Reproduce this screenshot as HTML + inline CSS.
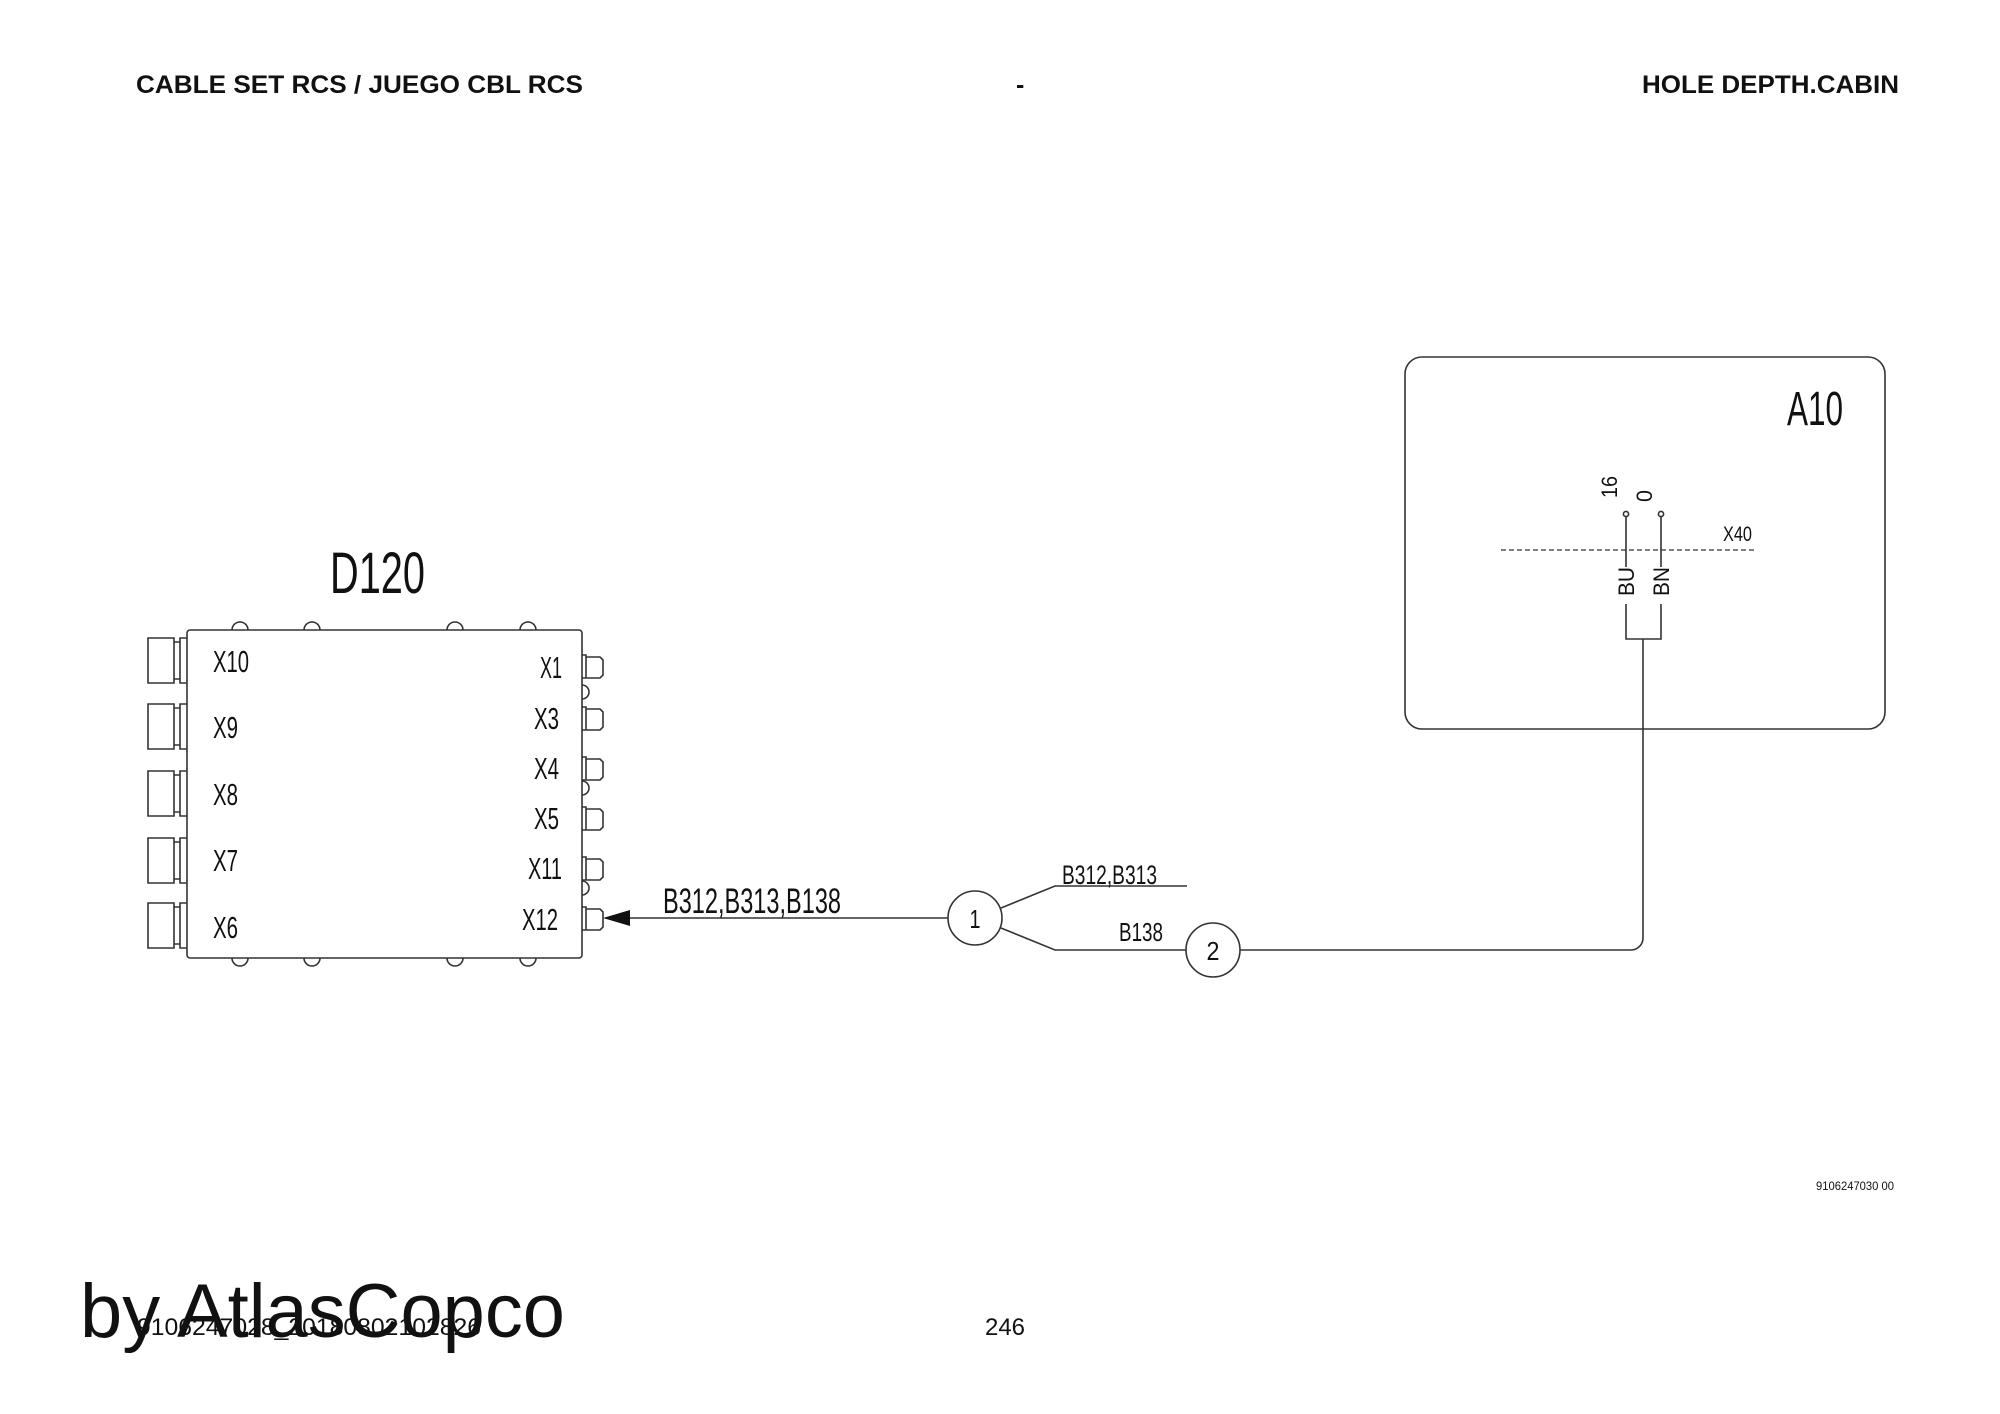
<!DOCTYPE html>
<html><head><meta charset="utf-8"><style>
html,body{margin:0;padding:0;background:#fff;}
svg{display:block;}
text{font-family:"Liberation Sans",sans-serif;fill:#111;}
</style></head><body>
<svg width="2000" height="1414" viewBox="0 0 2000 1414" xmlns="http://www.w3.org/2000/svg">
<g font-size="25" font-weight="bold">
<text x="136" y="93" textLength="447" lengthAdjust="spacingAndGlyphs" font-weight="bold">CABLE SET RCS / JUEGO CBL RCS</text>
<text x="1016" y="93">-</text>
<text x="1642" y="93" textLength="257" lengthAdjust="spacingAndGlyphs">HOLE DEPTH.CABIN</text>
</g>
<g fill="none" stroke="#333" stroke-width="1.6">
<rect x="187" y="630" width="395" height="328" rx="3"/>
<path d="M232 630 a8 8 0 0 1 16 0 M304 630 a8 8 0 0 1 16 0 M447 630 a8 8 0 0 1 16 0 M520 630 a8 8 0 0 1 16 0"/>
<path d="M232 958 a8 8 0 0 0 16 0 M304 958 a8 8 0 0 0 16 0 M447 958 a8 8 0 0 0 16 0 M520 958 a8 8 0 0 0 16 0"/>
<path d="M582 685 a7 7 0 0 1 0 14 M582 781 a7 7 0 0 1 0 14 M582 881 a7 7 0 0 1 0 14"/>
<g id="lc">
<path d="M187 638 h-7 v45 h7 M180 642 h-6 v-4 h-26 v45 h26 v-4 h6 M180 642 v37 M174 638 v45"/>
</g>
<use href="#lc" y="66"/><use href="#lc" y="133"/><use href="#lc" y="200"/><use href="#lc" y="265"/>
<g id="rc"><path d="M582 655 h4 v23 h-4 M586 657 h14 l3 3 v15 l-3 3 h-14"/></g>
<use href="#rc" y="52"/><use href="#rc" y="102"/><use href="#rc" y="152"/><use href="#rc" y="202"/><use href="#rc" y="252"/>
<line x1="630" y1="918" x2="948" y2="918"/>
<circle cx="975" cy="918" r="27"/>
<path d="M1001 908 L1055 886 H1187"/>
<path d="M1001 928 L1055 950 H1186"/>
<circle cx="1213" cy="950" r="27"/>
<path d="M1240 950 H1631 a12 12 0 0 0 12 -12 V639"/>
<rect x="1405" y="357" width="480" height="372" rx="17"/>
<path d="M1626 517 V567 M1661 517 V567 M1626 604 V639 H1661 V604"/>
<circle cx="1626" cy="514" r="2.6"/>
<circle cx="1661" cy="514" r="2.6"/>
<line x1="1501" y1="550" x2="1756" y2="550" stroke-dasharray="5 3" stroke-width="1.3"/>
</g>
<polygon points="603,918 630,910 630,926" fill="#111"/>
<text x="330" y="593" font-size="58" textLength="95" lengthAdjust="spacingAndGlyphs">D120</text>
<g font-size="31">
<text x="213" y="672" textLength="36" lengthAdjust="spacingAndGlyphs">X10</text>
<text x="213" y="738" textLength="25" lengthAdjust="spacingAndGlyphs">X9</text>
<text x="213" y="805" textLength="25" lengthAdjust="spacingAndGlyphs">X8</text>
<text x="213" y="871" textLength="25" lengthAdjust="spacingAndGlyphs">X7</text>
<text x="213" y="938" textLength="25" lengthAdjust="spacingAndGlyphs">X6</text>
<text x="540" y="678" textLength="22" lengthAdjust="spacingAndGlyphs">X1</text>
<text x="534" y="729" textLength="25" lengthAdjust="spacingAndGlyphs">X3</text>
<text x="534" y="779" textLength="25" lengthAdjust="spacingAndGlyphs">X4</text>
<text x="534" y="829" textLength="25" lengthAdjust="spacingAndGlyphs">X5</text>
<text x="528" y="879" textLength="34" lengthAdjust="spacingAndGlyphs">X11</text>
<text x="522" y="930" textLength="36" lengthAdjust="spacingAndGlyphs">X12</text>
</g>
<text x="663" y="913" font-size="35" textLength="178" lengthAdjust="spacingAndGlyphs">B312,B313,B138</text>
<text x="1062" y="884" font-size="27" textLength="95" lengthAdjust="spacingAndGlyphs">B312,B313</text>
<text x="1119" y="941" font-size="26" textLength="44" lengthAdjust="spacingAndGlyphs">B138</text>
<text x="975" y="928" font-size="26" text-anchor="middle" textLength="11" lengthAdjust="spacingAndGlyphs">1</text>
<text x="1213" y="960" font-size="26" text-anchor="middle" textLength="13" lengthAdjust="spacingAndGlyphs">2</text>
<text x="1787" y="425" font-size="48" textLength="56" lengthAdjust="spacingAndGlyphs">A10</text>
<text x="1723" y="541" font-size="21" textLength="29" lengthAdjust="spacingAndGlyphs">X40</text>
<g font-size="22">
<text transform="translate(1617,498) rotate(-90)" textLength="22" lengthAdjust="spacingAndGlyphs">16</text>
<text transform="translate(1652,502) rotate(-90)" textLength="12" lengthAdjust="spacingAndGlyphs">0</text>
<text transform="translate(1634,596) rotate(-90)" textLength="29" lengthAdjust="spacingAndGlyphs">BU</text>
<text transform="translate(1669,596) rotate(-90)" textLength="29" lengthAdjust="spacingAndGlyphs">BN</text>
</g>
<text x="1816" y="1190" font-size="12" textLength="78" lengthAdjust="spacingAndGlyphs">9106247030 00</text>
<text x="137" y="1335" font-size="24" textLength="344" lengthAdjust="spacingAndGlyphs">9106247028_20180802102826</text>
<text x="985" y="1335" font-size="24" textLength="40" lengthAdjust="spacingAndGlyphs">246</text>
<text x="80" y="1337" font-size="76" textLength="485" lengthAdjust="spacingAndGlyphs">by AtlasCopco</text>
</svg>
</body></html>
